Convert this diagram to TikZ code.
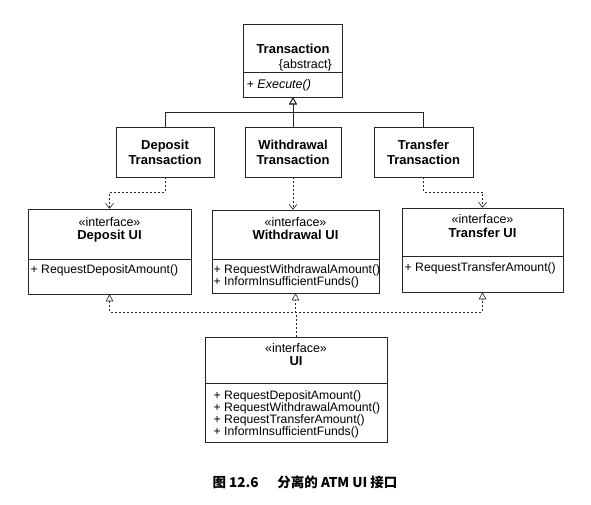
\documentclass[tikz,border=0pt]{standalone}
\usepackage{fontspec}
\setmainfont{Liberation Sans}
\newfontfamily\cjkfont{Noto Sans CJK SC}
\usetikzlibrary{arrows.meta}
\tikzset{
  umlbox/.style={draw=black!85, line width=0.6pt, inner sep=0pt},
  classname/.style={font=\fontsize{13}{15}\selectfont\bfseries, align=center, inner sep=0pt},
  stereo/.style={font=\fontsize{12.5}{13}\selectfont, inner sep=0pt},
  member/.style={font=\fontsize{12.2}{12}\selectfont, align=left, anchor=west, inner sep=0pt},
  gen/.style={draw=black!85, line width=0.6pt, -{Triangle[open, length=7pt, width=7.5pt]}},
  realize/.style={gen, dash pattern=on 2pt off 2pt},
  uses/.style={draw=black!85, line width=0.6pt, dash pattern=on 2pt off 2pt, -{Straight Barb[length=5pt, width=8pt]}},
}
\begin{document}
\begin{tikzpicture}[x=1pt, y=-1pt]
\useasboundingbox[fill=white] (0,0) rectangle (591,505);
% Transaction
\node[umlbox, minimum width=99, minimum height=73] (trans) at (293,60.5) {};
\draw[black!85, line width=0.6pt] (trans.west |- 0,72) -- (trans.east |- 0,72);
\node[classname] (transname) at (293,49) {Transaction};
\node[stereo, anchor=east] (transabs) at (332,65) {\{abstract\}};
\node[member, font=\fontsize{12.5}{12}\selectfont\itshape] (transexec) at (246.5,85) {+ Execute()};
% transaction subclasses
\node[umlbox, minimum width=98, minimum height=50] (dep) at (165,152) {};
\node[classname] (depname) at (165,152) {Deposit\\Transaction};
\node[umlbox, minimum width=96, minimum height=50] (wdr) at (293,152) {};
\node[classname] (wdrname) at (293,152) {Withdrawal\\Transaction};
\node[umlbox, minimum width=99, minimum height=50] (trf) at (423.5,152) {};
\node[classname] (trfname) at (423.5,152) {Transfer\\Transaction};
\coordinate (tjoin) at (293,112);
\draw[gen] (dep.north) |- (tjoin) -- (trans.south);
\draw[gen] (trf.north) |- (tjoin) -- (trans.south);
\draw[gen] (wdr.north) -- (trans.south);
% UI interfaces
\node[umlbox, minimum width=163, minimum height=85] (depui) at (109.5,251.5) {};
\draw[black!85, line width=0.6pt] (depui.west |- 0,259) -- (depui.east |- 0,259);
\node[stereo] (depster) at (109.5,222) {«interface»};
\node[classname] (depuiname) at (109.5,236) {Deposit UI};
\node[member] (depops) at (30.5,270) {+ RequestDepositAmount()};

\node[umlbox, minimum width=167, minimum height=83] (wdrui) at (295.5,251.5) {};
\draw[black!85, line width=0.6pt] (wdrui.west |- 0,259) -- (wdrui.east |- 0,259);
\node[stereo] (wdrster) at (295.5,222) {«interface»};
\node[classname] (wdruiname) at (295.5,235) {Withdrawal UI};
\node[member] (wdrops) at (213.5,276) {+ RequestWithdrawalAmount()\\+ InformInsufficientFunds()};

\node[umlbox, minimum width=161, minimum height=84] (trfui) at (482.5,250) {};
\draw[black!85, line width=0.6pt] (trfui.west |- 0,256) -- (trfui.east |- 0,256);
\node[stereo] (trfster) at (482.5,219) {«interface»};
\node[classname] (trfuiname) at (482.5,233) {Transfer UI};
\node[member] (trfops) at (404.5,268) {+ RequestTransferAmount()};

\coordinate (dbend) at (0,192);
\draw[uses] (dep.south) -- (dep.south |- dbend) -| (depui.north);
\draw[uses] (wdr.south) -- (wdr.south |- wdrui.north);
\draw[uses] (trf.south) -- (trf.south |- dbend) -| (trfui.north);
% UI
\node[umlbox, minimum width=182, minimum height=105] (ui) at (296,389.5) {};
\draw[black!85, line width=0.6pt] (ui.west |- 0,383) -- (ui.east |- 0,383);
\node[stereo] (uister) at (296,348) {«interface»};
\node[classname] (uiname) at (296,361) {UI};
\node[member] (uiops) at (213.5,414) {+ RequestDepositAmount()\\+ RequestWithdrawalAmount()\\+ RequestTransferAmount()\\+ InformInsufficientFunds()};
\coordinate (ujoin) at (296,312);
\draw[realize] (ui.north) -- (ujoin) -| (depui.south);
\draw[realize] (ui.north) -- (ujoin) -| (wdrui.south);
\draw[realize] (ui.north) -- (ujoin) -| (trfui.south);
% caption
\node[font=\cjkfont\bfseries\fontsize{13.5}{14}\selectfont, inner sep=0pt] (caption) at (305,482) {图 12.6\hspace{1.4em}分离的 ATM UI 接口};
\end{tikzpicture}
\end{document}
